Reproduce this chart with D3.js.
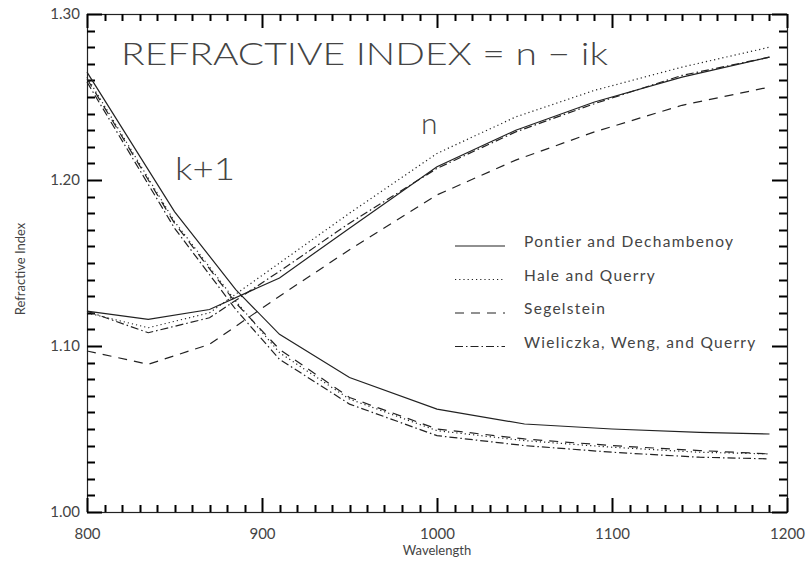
<!DOCTYPE html>
<html>
<head>
<meta charset="utf-8">
<script src="https://cdn.jsdelivr.net/npm/d3@7"></script>
<style>
  html, body { margin: 0; padding: 0; background: #fff; }
  svg text { font-family: Lato, "DejaVu Sans", sans-serif; }
</style>
</head>
<body>
<svg id="chart" width="812" height="566"></svg>
<script>
// Wavelength grids (nm)
const nWavelengths = [800, 835, 870, 910, 950, 1000, 1045, 1090, 1140, 1190];
const kWavelengths = [800, 850, 885, 910, 950, 1000, 1050, 1100, 1150, 1190];

// Real part n
const nPontier    = [1.121, 1.116, 1.122, 1.141, 1.171, 1.208, 1.230, 1.247, 1.262, 1.274];
const nHale       = [1.120, 1.111, 1.120, 1.150, 1.180, 1.216, 1.238, 1.254, 1.268, 1.280];
const nSegelstein = [1.097, 1.089, 1.101, 1.130, 1.158, 1.191, 1.212, 1.229, 1.245, 1.256];
const nWieliczka  = [1.121, 1.108, 1.117, 1.145, 1.174, 1.207, 1.229, 1.246, 1.263, 1.274];

// Imaginary part, plotted as k + 1
const kPontier    = [1.265, 1.181, 1.134, 1.107, 1.081, 1.062, 1.053, 1.050, 1.048, 1.047];
const kHale       = [1.262, 1.175, 1.127, 1.096, 1.068, 1.049, 1.043, 1.039, 1.036, 1.035];
const kSegelstein = [1.261, 1.174, 1.126, 1.098, 1.069, 1.050, 1.044, 1.040, 1.037, 1.035];
const kWieliczka  = [1.259, 1.171, 1.122, 1.092, 1.065, 1.046, 1.040, 1.036, 1.033, 1.032];

const sourceNames = ["Pontier and Dechambenoy", "Hale and Querry", "Segelstein", "Wieliczka, Weng, and Querry"];
const xTickValues = [800, 900, 1000, 1100, 1200];
const yTickValues = [1.00, 1.10, 1.20, 1.30];
const xMinorTicks = [810, 820, 830, 840, 850, 860, 870, 880, 890, 910, 920, 930, 940, 950, 960, 970, 980, 990,
                     1010, 1020, 1030, 1040, 1050, 1060, 1070, 1080, 1090, 1110, 1120, 1130, 1140, 1150, 1160, 1170, 1180, 1190];
const yMinorTicks = [1.01, 1.02, 1.03, 1.04, 1.05, 1.06, 1.07, 1.08, 1.09, 1.11, 1.12, 1.13, 1.14, 1.15, 1.16, 1.17, 1.18, 1.19,
                     1.21, 1.22, 1.23, 1.24, 1.25, 1.26, 1.27, 1.28, 1.29];

const dashStyles = [null, "1.2,3", "9,7", "8,3,1.5,3"];

const series = [
  { name: sourceNames[0], n: nPontier,    k: kPontier,    dash: dashStyles[0] },
  { name: sourceNames[1], n: nHale,       k: kHale,       dash: dashStyles[1] },
  { name: sourceNames[2], n: nSegelstein, k: kSegelstein, dash: dashStyles[2] },
  { name: sourceNames[3], n: nWieliczka,  k: kWieliczka,  dash: dashStyles[3] }
];

const svg = d3.select("#chart");
const plotLeft = 87, plotRight = 787, plotTop = 14, plotBottom = 512;

const x = d3.scaleLinear().domain([800, 1200]).range([plotLeft, plotRight]);
const y = d3.scaleLinear().domain([1.00, 1.30]).range([plotBottom, plotTop]);

const ink = "#222";
const textInk = "#444";

// plot frame
svg.append("rect")
  .attr("x", x(800) + 0.5).attr("y", y(1.30) + 0.5)
  .attr("width", x(1200) - x(800)).attr("height", y(1.00) - y(1.30))
  .attr("fill", "none").attr("stroke", ink).attr("stroke-width", 1.2);

// inward tick marks on all four sides, built with d3.path
const tickPath = d3.path();
const addX = (v, len) => {
  const px = Math.round(x(v)) + 0.5;
  tickPath.moveTo(px, plotBottom); tickPath.lineTo(px, plotBottom - len);
  tickPath.moveTo(px, plotTop);    tickPath.lineTo(px, plotTop + len);
};
const addY = (v, len) => {
  const py = Math.round(y(v)) + 0.5;
  tickPath.moveTo(plotLeft, py);  tickPath.lineTo(plotLeft + len, py);
  tickPath.moveTo(plotRight, py); tickPath.lineTo(plotRight - len, py);
};
xMinorTicks.forEach(v => addX(v, 7));
xTickValues.forEach(v => addX(v, 14));
yMinorTicks.forEach(v => addY(v, 8));
yTickValues.forEach(v => addY(v, 15));

svg.append("path")
  .attr("d", tickPath.toString())
  .style("fill", "none")
  .style("stroke", "#000")
  .style("stroke-width", "2px")
  .style("stroke-linecap", "butt");

// tick labels
svg.append("g")
  .attr("transform", `translate(0,${plotBottom})`)
  .call(d3.axisBottom(x).tickValues(xTickValues).tickSize(0).tickPadding(16).tickFormat(d3.format("d")))
  .call(g => g.select(".domain").remove())
  .call(g => g.selectAll("text").attr("font-size", 15).attr("fill", textInk));

svg.append("g")
  .attr("transform", `translate(${plotLeft},0)`)
  .call(d3.axisLeft(y).tickValues(yTickValues).tickSize(0).tickPadding(7).tickFormat(d3.format(".2f")))
  .call(g => g.select(".domain").remove())
  .call(g => g.selectAll("text").attr("font-size", 15).attr("fill", textInk));

// axis titles
svg.append("text")
  .attr("x", (plotLeft + plotRight) / 2).attr("y", 555)
  .attr("text-anchor", "middle").attr("font-size", 13).attr("fill", textInk)
  .text("Wavelength");

svg.append("text")
  .attr("transform", `translate(25,${(plotTop + plotBottom) / 2 + 6}) rotate(-90)`)
  .attr("text-anchor", "middle").attr("font-size", 13).attr("fill", textInk)
  .text("Refractive Index");

// curves
const plot = svg.append("g");
const line = d3.line().x(d => x(d[0])).y(d => y(d[1]));

series.forEach(s => {
  [[nWavelengths, s.n], [kWavelengths, s.k]].forEach(([wl, vals]) => {
    plot.append("path")
      .datum(d3.zip(wl, vals))
      .attr("d", line)
      .attr("fill", "none")
      .attr("stroke", ink)
      .attr("stroke-width", 1.2)
      .attr("stroke-dasharray", s.dash);
  });
});

// annotations
svg.append("text")
  .attr("x", 121).attr("y", 65)
  .attr("font-size", 31).attr("font-weight", 300).attr("fill", textInk)
  .attr("textLength", 487).attr("lengthAdjust", "spacingAndGlyphs")
  .text("REFRACTIVE INDEX = n \u2212 ik");

svg.append("text")
  .attr("x", 175).attr("y", 180)
  .attr("font-size", 32).attr("font-weight", 300).attr("fill", textInk)
  .attr("textLength", 60).attr("lengthAdjust", "spacingAndGlyphs")
  .text("k+1");

svg.append("text")
  .attr("x", 421).attr("y", 134)
  .attr("font-size", 30).attr("font-weight", 300).attr("fill", textInk)
  .text("n");

// legend
const legend = svg.append("g");
series.forEach((s, i) => {
  const ly = 246 + i * 33.5;
  legend.append("line")
    .attr("x1", 455).attr("x2", 505).attr("y1", ly).attr("y2", ly)
    .attr("stroke", ink).attr("stroke-width", 1.2)
    .attr("stroke-dasharray", s.dash);
  legend.append("text")
    .attr("x", 524).attr("y", ly + 1)
    .attr("font-size", 15.5).attr("fill", textInk)
    .attr("letter-spacing", 1.3)
    .text(s.name);
});
</script>
</body>
</html>
